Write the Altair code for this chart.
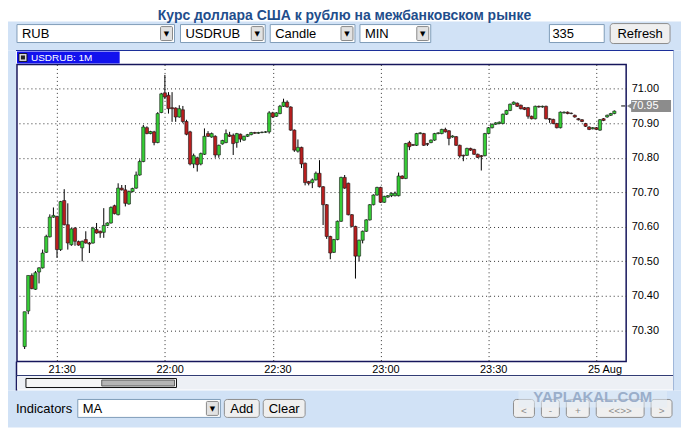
import altair as alt
import pandas as pd

TITLE = "Курс доллара США к рублю на межбанковском рынке"
FIRST_MINUTE = -9  # first candle at 21:21 (minutes from 21:30)

opens = [70.253, 70.356, 70.459, 70.419, 70.469, 70.481, 70.526, 70.571, 70.628, 70.630,
         70.534, 70.676, 70.606, 70.548, 70.596, 70.557, 70.539, 70.563, 70.553, 70.553,
         70.592, 70.587, 70.584, 70.604, 70.611, 70.661, 70.635, 70.712, 70.707, 70.666,
         70.702, 70.712, 70.750, 70.789, 70.887, 70.870, 70.875, 70.844, 70.931, 70.988,
         70.981, 70.945, 70.944, 70.918, 70.939, 70.905, 70.875, 70.782, 70.800, 70.782,
         70.810, 70.870, 70.860, 70.862, 70.808, 70.840, 70.844, 70.866, 70.865, 70.844,
         70.868, 70.851, 70.862, 70.867, 70.873, 70.871, 70.873, 70.874, 70.875, 70.930,
         70.920, 70.928, 70.949, 70.961, 70.947, 70.880, 70.819, 70.830, 70.784, 70.731,
         70.728, 70.736, 70.755, 70.716, 70.664, 70.572, 70.526, 70.563, 70.616, 70.743,
         70.726, 70.635, 70.601, 70.515, 70.561, 70.587, 70.620, 70.664, 70.692, 70.714,
         70.671, 70.686, 70.690, 70.690, 70.690, 70.747, 70.740, 70.844, 70.838, 70.836,
         70.870, 70.870, 70.841, 70.844, 70.851, 70.870, 70.870, 70.882, 70.878, 70.860,
         70.861, 70.836, 70.807, 70.807, 70.827, 70.824, 70.810, 70.806, 70.806, 70.870,
         70.887, 70.897, 70.899, 70.899, 70.926, 70.937, 70.955, 70.958, 70.952, 70.945,
         70.945, 70.920, 70.913, 70.949, 70.947, 70.949, 70.913, 70.911, 70.899, 70.887,
         70.930, 70.932, 70.929, 70.923, 70.913, 70.910, 70.899, 70.889, 70.884, 70.887,
         70.880, 70.913, 70.918, 70.923, 70.928]
closes = [70.354, 70.459, 70.421, 70.467, 70.481, 70.524, 70.572, 70.628, 70.633, 70.534,
          70.673, 70.606, 70.553, 70.594, 70.558, 70.547, 70.558, 70.553, 70.550, 70.596,
          70.582, 70.582, 70.604, 70.611, 70.656, 70.638, 70.712, 70.707, 70.668, 70.702,
          70.711, 70.750, 70.789, 70.889, 70.870, 70.876, 70.844, 70.928, 70.985, 70.976,
          70.942, 70.942, 70.918, 70.942, 70.905, 70.868, 70.782, 70.806, 70.780, 70.812,
          70.862, 70.862, 70.870, 70.808, 70.836, 70.850, 70.870, 70.862, 70.841, 70.870,
          70.854, 70.862, 70.867, 70.873, 70.871, 70.873, 70.874, 70.875, 70.930, 70.918,
          70.930, 70.949, 70.961, 70.947, 70.880, 70.822, 70.830, 70.782, 70.728, 70.726,
          70.736, 70.755, 70.716, 70.664, 70.572, 70.524, 70.563, 70.616, 70.743, 70.712,
          70.635, 70.601, 70.515, 70.561, 70.587, 70.620, 70.664, 70.692, 70.714, 70.671,
          70.688, 70.690, 70.697, 70.697, 70.747, 70.740, 70.841, 70.832, 70.836, 70.870,
          70.872, 70.836, 70.839, 70.851, 70.870, 70.872, 70.882, 70.875, 70.856, 70.863,
          70.836, 70.805, 70.805, 70.827, 70.822, 70.810, 70.801, 70.803, 70.870, 70.887,
          70.897, 70.901, 70.903, 70.926, 70.937, 70.955, 70.961, 70.949, 70.942, 70.940,
          70.920, 70.913, 70.949, 70.947, 70.949, 70.913, 70.911, 70.899, 70.887, 70.932,
          70.932, 70.928, 70.928, 70.918, 70.910, 70.905, 70.891, 70.882, 70.887, 70.882,
          70.910, 70.908, 70.923, 70.928, 70.935]
highs = [70.354, 70.459, 70.465, 70.472, 70.483, 70.534, 70.577, 70.636, 70.656, 70.632,
         70.675, 70.709, 70.668, 70.596, 70.599, 70.560, 70.560, 70.587, 70.556, 70.600,
         70.611, 70.589, 70.654, 70.613, 70.659, 70.664, 70.726, 70.721, 70.721, 70.705,
         70.713, 70.760, 70.795, 70.895, 70.891, 70.878, 70.878, 70.932, 70.988, 71.040,
         70.990, 70.990, 70.946, 70.952, 70.950, 70.910, 70.878, 70.812, 70.803, 70.815,
         70.885, 70.877, 70.873, 70.865, 70.838, 70.852, 70.882, 70.875, 70.870, 70.872,
         70.870, 70.864, 70.869, 70.875, 70.875, 70.875, 70.876, 70.877, 70.935, 70.933,
         70.932, 70.953, 70.971, 70.966, 70.949, 70.882, 70.853, 70.832, 70.786, 70.733,
         70.740, 70.760, 70.793, 70.718, 70.666, 70.574, 70.565, 70.618, 70.745, 70.750,
         70.728, 70.637, 70.603, 70.563, 70.589, 70.622, 70.666, 70.694, 70.716, 70.716,
         70.690, 70.692, 70.699, 70.702, 70.757, 70.749, 70.843, 70.849, 70.840, 70.872,
         70.874, 70.872, 70.843, 70.853, 70.872, 70.874, 70.884, 70.887, 70.880, 70.865,
         70.863, 70.838, 70.809, 70.829, 70.829, 70.826, 70.812, 70.808, 70.872, 70.889,
         70.899, 70.903, 70.905, 70.928, 70.939, 70.957, 70.963, 70.960, 70.954, 70.947,
         70.947, 70.922, 70.951, 70.951, 70.951, 70.951, 70.915, 70.913, 70.901, 70.934,
         70.934, 70.934, 70.931, 70.925, 70.915, 70.912, 70.901, 70.891, 70.889, 70.889,
         70.912, 70.915, 70.925, 70.930, 70.937]
lows = [70.246, 70.347, 70.419, 70.417, 70.436, 70.479, 70.524, 70.569, 70.626, 70.510,
        70.530, 70.604, 70.534, 70.545, 70.545, 70.545, 70.500, 70.551, 70.524, 70.551,
        70.580, 70.568, 70.568, 70.602, 70.609, 70.636, 70.633, 70.705, 70.659, 70.664,
        70.700, 70.710, 70.748, 70.787, 70.868, 70.868, 70.836, 70.842, 70.929, 70.970,
        70.928, 70.904, 70.904, 70.916, 70.900, 70.865, 70.778, 70.770, 70.760, 70.778,
        70.808, 70.860, 70.858, 70.800, 70.800, 70.838, 70.842, 70.860, 70.808, 70.829,
        70.845, 70.849, 70.860, 70.865, 70.869, 70.869, 70.871, 70.872, 70.870, 70.915,
        70.918, 70.926, 70.947, 70.945, 70.878, 70.817, 70.815, 70.770, 70.720, 70.720,
        70.712, 70.734, 70.714, 70.605, 70.565, 70.506, 70.524, 70.561, 70.614, 70.710,
        70.633, 70.599, 70.450, 70.500, 70.552, 70.585, 70.618, 70.662, 70.690, 70.669,
        70.669, 70.684, 70.686, 70.688, 70.688, 70.738, 70.738, 70.822, 70.834, 70.834,
        70.868, 70.834, 70.834, 70.842, 70.849, 70.868, 70.868, 70.873, 70.836, 70.858,
        70.834, 70.800, 70.790, 70.805, 70.820, 70.808, 70.799, 70.763, 70.804, 70.868,
        70.885, 70.895, 70.897, 70.897, 70.924, 70.935, 70.953, 70.947, 70.940, 70.938,
        70.913, 70.911, 70.911, 70.945, 70.945, 70.911, 70.901, 70.897, 70.885, 70.885,
        70.928, 70.926, 70.926, 70.916, 70.908, 70.903, 70.889, 70.880, 70.882, 70.880,
        70.878, 70.906, 70.916, 70.921, 70.926]

tick_pos = [0, 30, 60, 90, 120, 150]
tick_labels = ["21:30", "22:00", "22:30", "23:00", "23:30", "25 Aug"]
y_ticks = [70.30, 70.40, 70.50, 70.60, 70.70, 70.80, 70.90, 71.00]
last_price = 70.95

top_selects = ["RUB", "USDRUB", "Candle", "MIN"]
bars_count = "335"
series_tab = "USDRUB: 1M"
indicator = "MA"
nav_buttons = ["<", "-", "+", "<<>>", ">"]
watermark = "YAPLAKAL.COM"

FONT = "Liberation Sans"
GREEN = "#36CE36"
RED = "#B81E1E"
PANEL = "#D1E2F6"

df = pd.DataFrame({
    "m": list(range(FIRST_MINUTE, FIRST_MINUTE + len(opens))),
    "open": opens, "high": highs, "low": lows, "close": closes,
})

# plot origin on the page (8px body margin + padding)
OX, OY = 17, 64
one = pd.DataFrame({"k": [0]})


def rect(x1, y1, x2, y2, fill, stroke=None, sw=1.0, r=0, op=1.0):
    kw = {"fill": fill, "opacity": op}
    if r:
        kw["cornerRadius"] = r
    if stroke:
        kw["stroke"] = stroke
        kw["strokeWidth"] = sw
    else:
        kw["strokeWidth"] = 0
    return alt.Chart(one).mark_rect(**kw).encode(
        x=alt.value(x1 - OX), x2=alt.value(x2 - OX),
        y=alt.value(y1 - OY), y2=alt.value(y2 - OY))


def hline(x1, x2, y, color, sw=1.0):
    return alt.Chart(one).mark_rule(color=color, strokeWidth=sw).encode(
        x=alt.value(x1 - OX), x2=alt.value(x2 - OX), y=alt.value(y - OY))


def vline(x, y1, y2, color, sw=1.0):
    return alt.Chart(one).mark_rule(color=color, strokeWidth=sw).encode(
        x=alt.value(x - OX), y=alt.value(y1 - OY), y2=alt.value(y2 - OY))


def label(x, y, s, size=13, color="#000000", align="left", weight="normal",
          font=FONT, op=1.0, baseline="middle"):
    return alt.Chart(one).mark_text(
        align=align, baseline=baseline, fontSize=size, color=color,
        fontWeight=weight, font=font, opacity=op).encode(
        x=alt.value(x - OX), y=alt.value(y - OY), text=alt.value(s))


def dropdown(x1, x2, text, y1=24, y2=42):
    return [
        rect(x1, y1, x2, y2, "#FFFFFF", "#7F9DB9"),
        rect(x2 - 14, y1 + 2, x2 - 2, y2 - 2, "#E2E2E2", "#8A8A8A", r=1),
        label(x1 + 5, (y1 + y2) / 2 + 0.5, text),
        label(x2 - 8, (y1 + y2) / 2 + 0.5, "▼", size=7, align="center",
              font="DejaVu Sans"),
    ]


def button(x1, y1, x2, y2, text, color="#000000", size=13, dy=0.5):
    return [
        rect(x1, y1, x2, y2, "#EFEFEF", "#8E8E8E", r=3),
        label((x1 + x2) / 2, (y1 + y2) / 2 + dy, text, size=size,
              color=color, align="center"),
    ]


decor = []
# light blue panel around the white chart frame
decor += [
    rect(8, 21, 683, 50, PANEL),
    rect(8, 50, 16, 391, PANEL),
    rect(676, 50, 683, 391, PANEL),
    rect(8, 391, 683, 428, PANEL),
]
decor.append(label(345.5, 8.5, TITLE, size=14, color="#1F4E8C", align="center",
                   weight="bold", baseline="top"))
# top controls
sel_x = [(17, 175), (181, 266), (271, 356), (361, 432)]
for (a, b), t in zip(sel_x, top_selects):
    decor += dropdown(a, b, t)
decor += [rect(551, 24, 606, 42, "#FFFFFF", "#7F9DB9"),
          label(554, 33.5, bars_count)]
decor += button(612, 23, 672, 43, "Refresh")
# frame lines and tab
decor += [
    hline(16, 676, 50, "#1C2F9A", 1.2),
    vline(675.5, 50, 391, "#9FB6D9", 1),
    rect(17, 51, 120, 63, "#1212EE"),
    rect(19, 53, 27, 61, "#D8D8D8", "#000000", 0.8),
    rect(21, 55, 25, 59, "#222222"),
    label(31, 57.5, series_tab, size=10, color="#FFFFFF"),
    vline(16.5, 362, 391, "#16165C", 1.5),
    hline(16, 675, 376, "#2A3570", 1),
    rect(17, 377, 675, 390, "#EDF0F5"),
    rect(26, 379, 177, 388, "#F6F6F6", "#111111", 1),
    rect(102, 380.5, 175, 386.5, "#B5B5B5", "#444444", 0.8),
]
# bottom controls
decor.append(label(16, 409.5, "Indicators"))
decor += dropdown(78, 221, indicator, 400, 418)
decor += button(225, 400, 260, 418, "Add")
decor += button(264, 400, 306, 418, "Clear")
nav_x = [(515, 536), (543, 561), (568, 591), (598, 646), (653, 674)]
for (a, b), t in zip(nav_x, nav_buttons):
    decor += button(a, 400, b, 418, t, color="#8A8A8A", size=10, dy=3)
decor += [
    rect(520, 391, 669, 408, "#E4ECF6", op=0.55),
    label(594.5, 397.5, watermark, size=15, color="#93A8C6", align="center",
          weight="bold", op=0.9),
]

# candles
xs = alt.X("m:Q", title=None,
           scale=alt.Scale(domain=[-9.75, 156.9], nice=False, zero=False),
           axis=alt.Axis(values=tick_pos,
                         labelExpr="".join(f"datum.value == {v} ? '{t}' : "
                                           for v, t in zip(tick_pos, tick_labels)) + "''",
                         grid=True, gridDash=[1, 3], gridColor="#333333",
                         gridWidth=1, ticks=False, domain=False, labelFontSize=11,
                         labelPadding=2, labelAlign="left", labelOffset=-9,
                         labelOverlap=False, labelFlush=False))
ys = alt.Y("low:Q", title=None,
           scale=alt.Scale(domain=[70.2096, 71.0702], nice=False, zero=False),
           axis=alt.Axis(orient="right", values=y_ticks, format=".2f",
                         grid=True, gridDash=[1, 3], gridColor="#333333",
                         gridWidth=1, ticks=False, domain=False, labelFontSize=11,
                         labelPadding=5, labelOverlap=False, labelFlush=False))

base = alt.Chart(df).transform_calculate(
    dir="datum.close >= datum.open ? 'up' : 'down'")
wicks = base.mark_rule(color="#000000", strokeWidth=1).encode(
    x=xs, y=ys, y2="high:Q")
bodies = base.mark_bar(size=3.2, stroke="#1A1A1A", strokeWidth=0.6).encode(
    x="m:Q", y="open:Q", y2="close:Q",
    fill=alt.Fill("dir:N", scale=alt.Scale(domain=["up", "down"],
                                           range=[GREEN, RED]), legend=None))

# last price marker
half = 0.0175
marker = [
    alt.Chart(one).mark_rule(color="#000000", strokeWidth=1).encode(
        x=alt.value(606), x2=alt.value(610), y=alt.datum(last_price)),
    alt.Chart(one).mark_rect(fill="#8C8C8C", strokeWidth=0).encode(
        x=alt.value(616), x2=alt.value(656),
        y=alt.datum(last_price + half), y2=alt.datum(last_price - half)),
    alt.Chart(one).mark_point(shape="triangle-left", filled=True, fill="#8C8C8C",
                              size=150, opacity=1, strokeWidth=0).encode(
        x=alt.value(617), y=alt.datum(last_price)),
    alt.Chart(one).mark_text(align="left", baseline="middle", fontSize=11,
                             color="#FFFFFF", font=FONT).encode(
        x=alt.value(616), y=alt.datum(last_price),
        text=alt.value(f"{last_price:.2f}")),
]

chart = alt.layer(wicks, bodies, *decor, *marker).properties(
    width=611, height=298,
    padding={"left": 9, "top": 56, "right": 55, "bottom": 66},
    autosize=alt.AutoSizeParams(type="none"),
    background="white",
).configure_view(stroke="#16165C", strokeWidth=1.5).configure_axis(
    labelFont=FONT, labelColor="#000000")

chart.save("out.html", embed_options={"renderer": "svg", "actions": False})
